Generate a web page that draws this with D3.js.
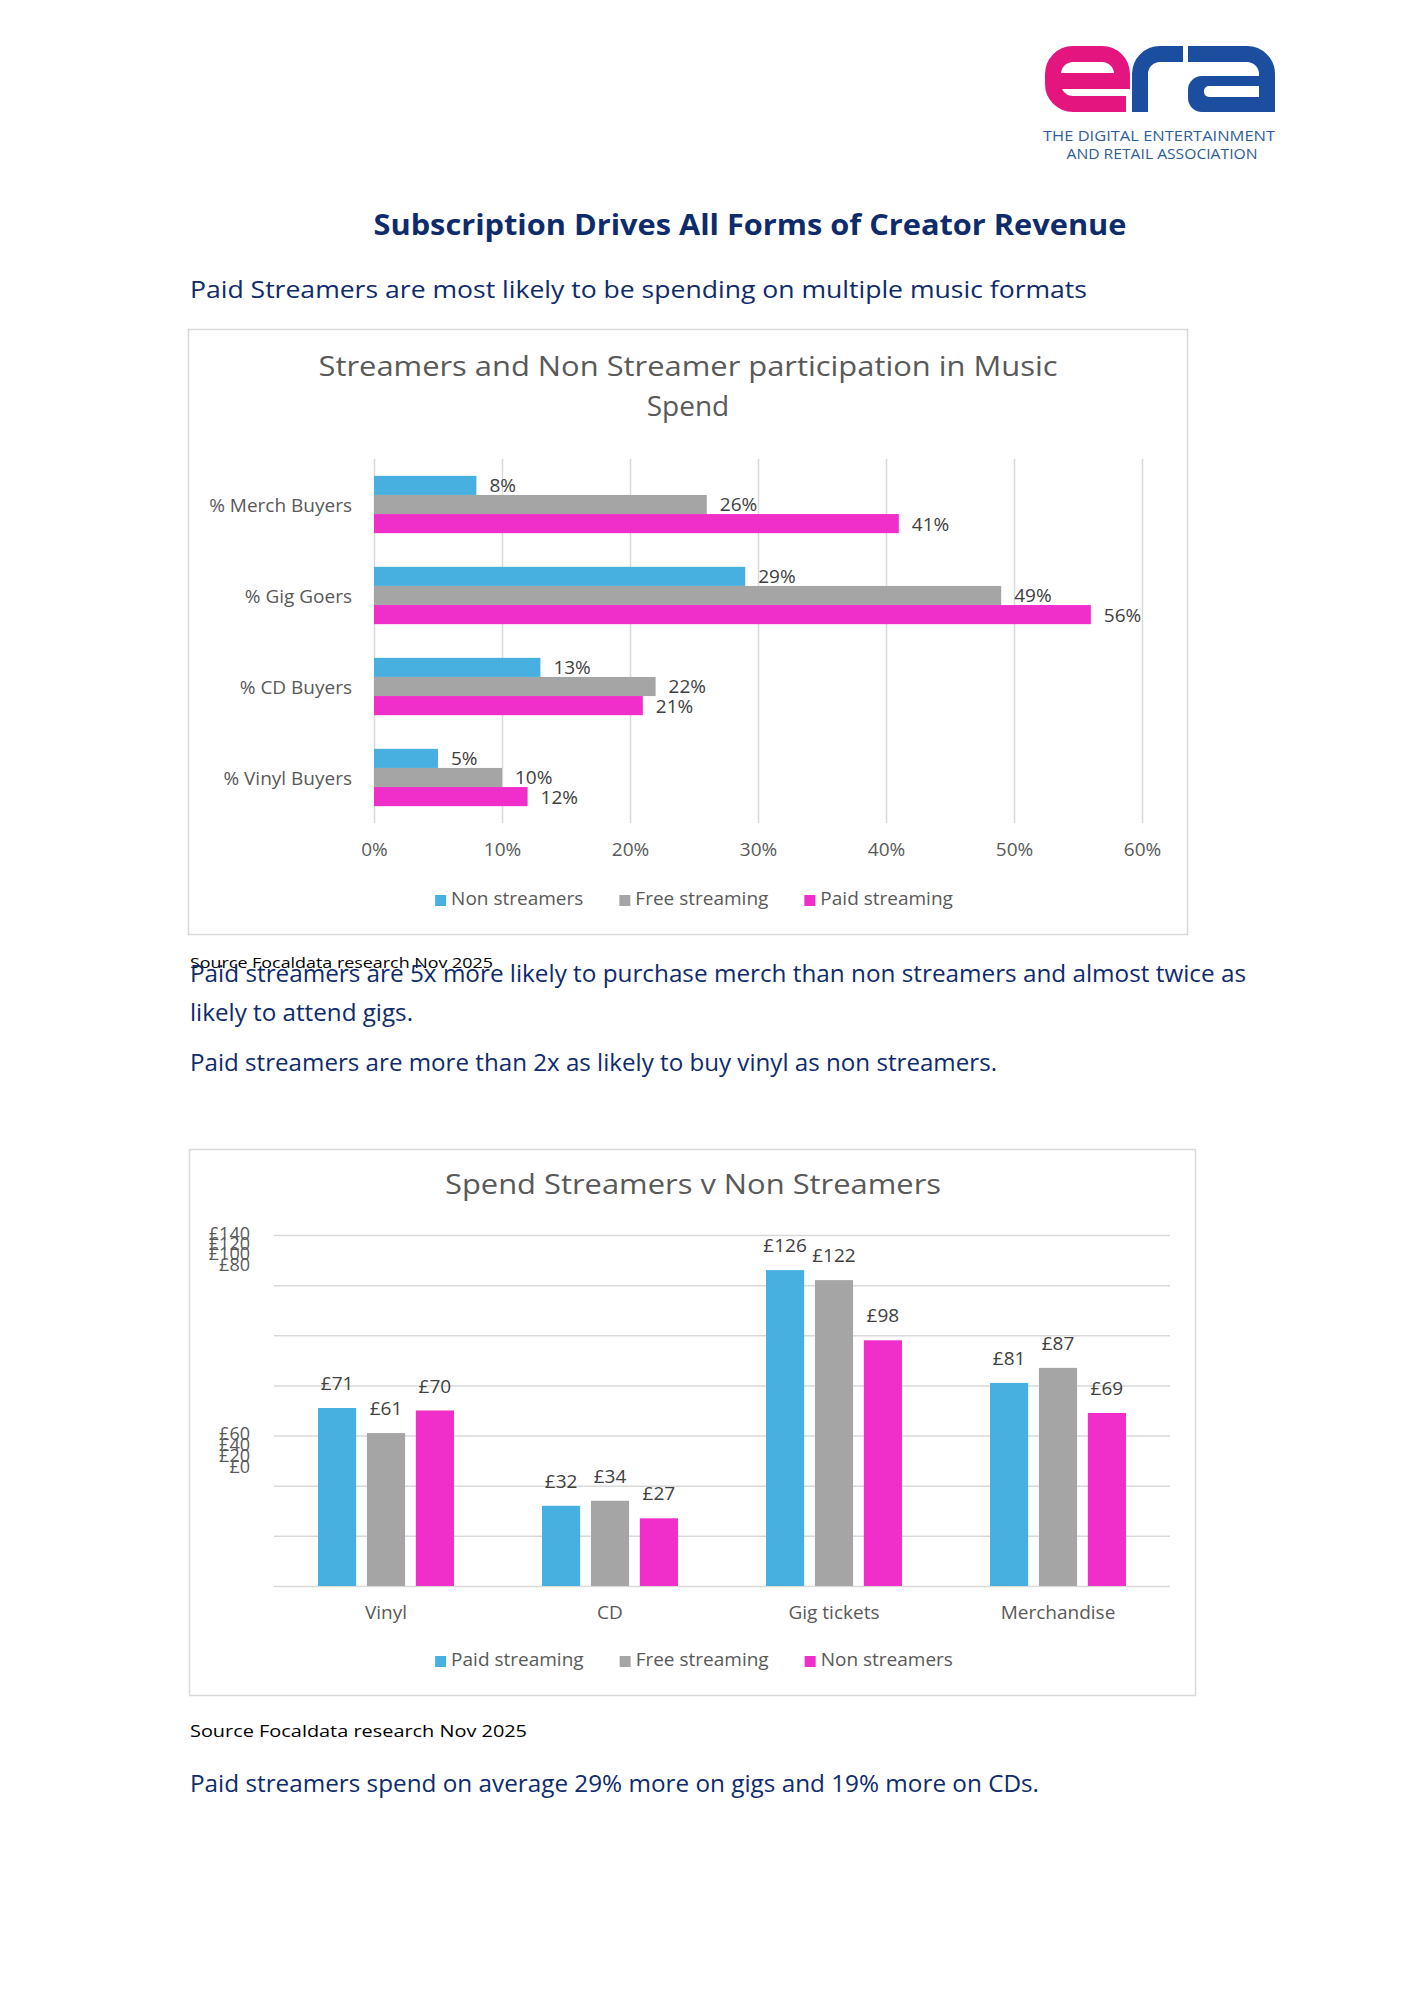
<!DOCTYPE html>
<html>
<head>
<meta charset="utf-8">
<script src="https://cdn.jsdelivr.net/npm/d3@7"></script>
<style>
  body { margin: 0; background: #fff; }
  svg text { font-family: 'Open Sans', sans-serif; }
</style>
</head>
<body>
<svg id="page"></svg>
<script>
// ---- data ----
const partCategories = ['% Merch Buyers', '% Gig Goers', '% CD Buyers', '% Vinyl Buyers'];
const partSeries = ['Non streamers', 'Free streaming', 'Paid streaming'];
const partNonStreamers = [8, 29, 13, 5];
const partFreeStreaming = [26, 49, 22, 10];
const partPaidStreaming = [41, 56, 21, 12];
const pctTicks = [0, 10, 20, 30, 40, 50, 60];

const spendCategories = ['Vinyl', 'CD', 'Gig tickets', 'Merchandise'];
const spendSeries = ['Paid streaming', 'Free streaming', 'Non streamers'];
const spendPaid = [71, 32, 126, 81];
const spendFree = [61, 34, 122, 87];
const spendNon = [70, 27, 98, 69];
const poundTicks = [0, 20, 40, 60, 80, 100, 120, 140];

const seriesColours = ['#47b0e0', '#a5a5a5', '#f02ec9'];
const navy = '#0e2b6c';
const grey = '#595959';
const gridGrey = '#d9d9d9';

const svg = d3.select('#page')
  .attr('width', 1414)
  .attr('height', 2000);

svg.append('rect').attr('width', 1414).attr('height', 2000).attr('fill', '#fff');

// text helper: place a line, squeeze/stretch to the width
function line(str, x, y, size, colour, width, anchor, weight) {
  const t = svg.append('text')
    .attr('x', x)
    .attr('y', y)
    .attr('font-size', size)
    .attr('fill', colour)
    .attr('text-anchor', anchor || 'start')
    .attr('font-weight', weight || 'normal')
    .text(str);
  if (width) t.attr('textLength', width).attr('lengthAdjust', 'spacingAndGlyphs');
  return t;
}

// ######## logo ########
const logo = svg.append('g').attr('fill', 'none').attr('stroke-width', 16);
logo.append('path')
  .attr('stroke', '#e5157f')
  .attr('d', 'M1053,81 H1130 M1122,81 V74 A20,20 0 0 0 1102,54 H1073 A20,20 0 0 0 1053,74 V84 A20,20 0 0 0 1073,104 H1126');
logo.append('path')
  .attr('stroke', '#1b4e9e')
  .attr('d', 'M1140,112 V74 A20,20 0 0 1 1160,54 H1183');
logo.append('path')
  .attr('stroke', '#1b4e9e')
  .attr('d', 'M1188,54 H1247 A20,20 0 0 1 1267,74 V112');
logo.append('path')
  .attr('stroke', 'none')
  .attr('fill', '#1b4e9e')
  .attr('fill-rule', 'evenodd')
  .attr('d', 'M1267,76 H1202 A14,14 0 0 0 1188,90 V98 A14,14 0 0 0 1202,112 H1267 Z M1259,86 H1209 A5,5 0 0 0 1204,91 V92 A5,5 0 0 0 1209,97 H1259 Z');
line('THE DIGITAL ENTERTAINMENT', 1159, 141, 14, '#2e5e96', 232, 'middle');
line('AND RETAIL ASSOCIATION', 1162, 159, 14, '#2e5e96', 191, 'middle');

// ######## page text ########
line('Subscription Drives All Forms of Creator Revenue', 750, 235, 28, navy, 753, 'middle', 'bold');
line('Paid Streamers are most likely to be spending on multiple music formats', 190, 298, 24, navy, 897);

// ######## chart 1 : participation ########
svg.append('rect')
  .attr('x', 188.5).attr('y', 329.5)
  .attr('width', 999).attr('height', 605)
  .attr('fill', 'none').attr('stroke', gridGrey).attr('stroke-width', 1.5);

line('Streamers and Non Streamer participation in Music', 688, 376, 28, grey, 739, 'middle');
line('Spend', 688, 416, 28, grey, null, 'middle');

const x1 = d3.scaleLinear().domain([0, 60]).range([374, 1142]);
const y1 = d3.scaleBand().domain(partCategories).range([459, 823])
  .paddingInner(0.37).paddingOuter(0.185);
const sub1 = d3.scaleBand().domain(partSeries).range([0, y1.bandwidth()]);

const xAxis1 = svg.append('g')
  .attr('transform', 'translate(0, 823)')
  .call(d3.axisBottom(x1).tickValues(pctTicks).tickSize(-(823 - 459)).tickFormat(d => d + '%'));
xAxis1.select('.domain').remove();
xAxis1.selectAll('.tick line').attr('stroke', gridGrey).attr('stroke-width', 1.5);
xAxis1.selectAll('.tick text')
  .attr('font-size', 19).attr('fill', grey)
  .attr('y', 33).attr('dy', 0)
  .style('font-family', "'Open Sans', sans-serif");

const partRows = partCategories.map((c, i) => ({
  cat: c,
  vals: [partNonStreamers[i], partFreeStreaming[i], partPaidStreaming[i]]
}));

const groups1 = svg.selectAll('g.part')
  .data(partRows)
  .enter().append('g')
    .attr('class', 'part')
    .attr('transform', d => `translate(0, ${y1(d.cat)})`);

groups1.selectAll('rect')
  .data(d => d.vals.map((v, j) => ({ s: partSeries[j], v, j })))
  .enter().append('rect')
    .attr('x', x1(0))
    .attr('y', d => sub1(d.s))
    .attr('width', d => x1(d.v) - x1(0))
    .attr('height', sub1.bandwidth())
    .attr('fill', d => seriesColours[d.j]);

groups1.selectAll('text')
  .data(d => d.vals.map((v, j) => ({ s: partSeries[j], v, j })))
  .enter().append('text')
    .attr('x', d => x1(d.v) + 13)
    .attr('y', d => sub1(d.s) + sub1.bandwidth() / 2 + 7)
    .attr('font-size', 19)
    .attr('fill', '#404040')
    .text(d => d.v + '%');

svg.selectAll('text.cat1')
  .data(partCategories)
  .enter().append('text')
    .attr('class', 'cat1')
    .attr('x', 352)
    .attr('y', d => y1(d) + y1.bandwidth() / 2 + 7)
    .attr('text-anchor', 'end')
    .attr('font-size', 19)
    .attr('fill', grey)
    .text(d => d);

// legend helper, laid out by measured text widths and centred
function legend(names, colours, cx, cy) {
  const g = svg.append('g');
  const items = g.selectAll('g')
    .data(names)
    .enter().append('g');
  items.append('rect')
    .attr('width', 11).attr('height', 11)
    .attr('y', cy - 3)
    .attr('fill', (d, i) => colours[i]);
  items.append('text')
    .attr('x', 16)
    .attr('y', cy + 7)
    .attr('font-size', 19)
    .attr('fill', grey)
    .text(d => d);
  let pos = 0;
  const offs = [];
  items.each(function () {
    offs.push(pos);
    pos += 16 + d3.select(this).select('text').node().getComputedTextLength() + 36;
  });
  const total = pos - 36;
  items.attr('transform', (d, i) => `translate(${cx - total / 2 + offs[i]}, 0)`);
}
legend(partSeries, seriesColours, 694, 898);

// ######## text between charts ########
line('Source Focaldata research Nov 2025', 190, 968, 15, '#000', 303);
line('Paid streamers are 5x more likely to purchase merch than non streamers and almost twice as', 190, 982, 24, navy, 1056);
line('likely to attend gigs.', 190, 1021, 24, navy, 223);
line('Paid streamers are more than 2x as likely to buy vinyl as non streamers.', 190, 1071, 24, navy, 807);

// ######## chart 2 : spend ########
svg.append('rect')
  .attr('x', 189.5).attr('y', 1149.5)
  .attr('width', 1006).attr('height', 546)
  .attr('fill', 'none').attr('stroke', gridGrey).attr('stroke-width', 1.5);

line('Spend Streamers v Non Streamers', 693, 1194, 28, grey, 496, 'middle');

const x2 = d3.scaleBand().domain(spendCategories).range([274, 1170])
  .paddingInner(0.393).paddingOuter(0.1965);
const sub2 = d3.scaleBand().domain(spendSeries).range([0, x2.bandwidth()]).paddingInner(0.22);
const y2 = d3.scaleLinear().domain([0, 140]).range([1586, 1235]);
// the source squeezes its tick labels into two stacks; this maps each tick to where its label sits
const labelY = d3.scaleLinear().domain([0, 60, 80, 140]).range([1466, 1433, 1264, 1233]);

const yAxis2 = svg.append('g')
  .attr('transform', 'translate(274, 0)')
  .call(d3.axisLeft(y2).tickValues(poundTicks).tickSize(-(1170 - 274)).tickFormat(d => '£' + d));
yAxis2.select('.domain').remove();
yAxis2.selectAll('.tick line').attr('stroke', gridGrey).attr('stroke-width', 1.5);
yAxis2.selectAll('.tick text')
  .attr('font-size', 18).attr('fill', grey)
  .attr('x', -24).attr('dy', 0)
  .attr('y', d => labelY(d) - y2(d) + 6)
  .style('font-family', "'Open Sans', sans-serif");

const spendRows = spendCategories.map((c, i) => ({
  cat: c,
  vals: [spendPaid[i], spendFree[i], spendNon[i]]
}));

const groups2 = svg.selectAll('g.spend')
  .data(spendRows)
  .enter().append('g')
    .attr('class', 'spend')
    .attr('transform', d => `translate(${x2(d.cat)}, 0)`);

groups2.selectAll('rect')
  .data(d => d.vals.map((v, j) => ({ s: spendSeries[j], v, j })))
  .enter().append('rect')
    .attr('x', d => sub2(d.s))
    .attr('y', d => y2(d.v))
    .attr('width', sub2.bandwidth())
    .attr('height', d => y2(0) - y2(d.v))
    .attr('fill', d => seriesColours[d.j]);

groups2.selectAll('text')
  .data(d => d.vals.map((v, j) => ({ s: spendSeries[j], v, j })))
  .enter().append('text')
    .attr('x', d => sub2(d.s) + sub2.bandwidth() / 2)
    .attr('y', d => y2(d.v) - 18)
    .attr('text-anchor', 'middle')
    .attr('font-size', 19)
    .attr('fill', '#404040')
    .text(d => '£' + d.v);

svg.selectAll('text.cat2')
  .data(spendCategories)
  .enter().append('text')
    .attr('class', 'cat2')
    .attr('x', d => x2(d) + x2.bandwidth() / 2)
    .attr('y', 1619)
    .attr('text-anchor', 'middle')
    .attr('font-size', 19)
    .attr('fill', grey)
    .text(d => d);

legend(spendSeries, seriesColours, 694, 1659);

// ######## closing text ########
line('Source Focaldata research Nov 2025', 190, 1737, 17, '#000', 337);
line('Paid streamers spend on average 29% more on gigs and 19% more on CDs.', 190, 1792, 24, navy, 849);
</script>
</body>
</html>
